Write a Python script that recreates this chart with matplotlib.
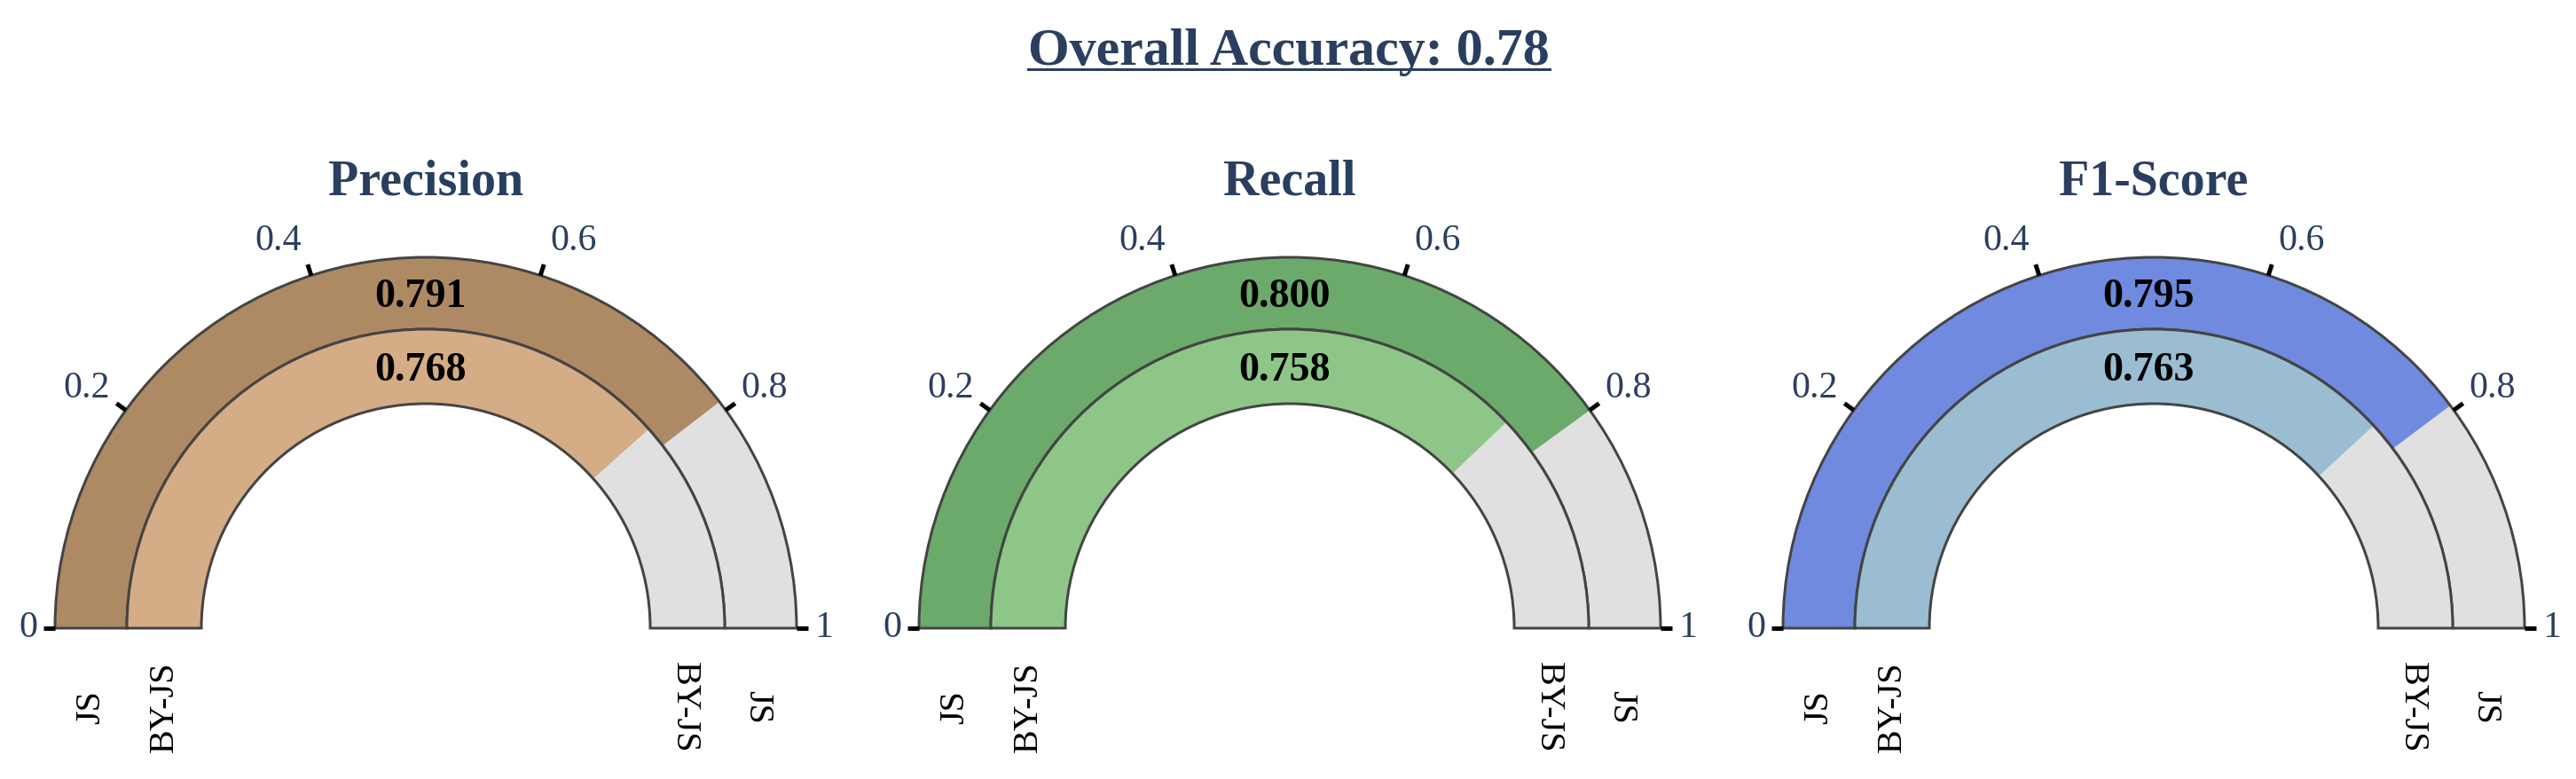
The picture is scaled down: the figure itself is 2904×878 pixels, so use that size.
import numpy as np
import matplotlib.pyplot as plt
from matplotlib.patches import Wedge

plt.rcParams['font.family'] = ['Liberation Serif', 'DejaVu Serif']

# data
metrics = ['Precision', 'Recall', 'F1-Score']
js_scores = [0.791, 0.800, 0.795]
byjs_scores = [0.768, 0.758, 0.763]
overall_accuracy = 0.78
tick_values = [0, 0.2, 0.4, 0.6, 0.8, 1]
tick_labels = ['0', '0.2', '0.4', '0.6', '0.8', '1']
ring_names = ['JS', 'BY-JS']

js_colors = ['#ae8a64', '#6baa6b', '#6f8adf']
byjs_colors = ['#d4ac86', '#8ec687', '#9bbdd2']
gray = '#e0e0e0'
edge = '#444444'
navy = '#2a3f5f'

W, H = 2904, 878
fig = plt.figure(figsize=(W / 144, H / 144), dpi=144)
ax = fig.add_axes([0, 0, 1, 1])
ax.set_xlim(0, W)
ax.set_ylim(0, H)
ax.axis('off')


def py(y):
    # pixel rows counted from the top
    return H - y


centers = [480, 1454, 2428]
base = 708
r_out, r_mid, r_in = 418, 337, 253


def ang(v):
    return 180 * (1 - v)


for i, name in enumerate(metrics):
    cx = centers[i]
    c = (cx, py(base))
    rings = [(r_out, r_mid, js_scores[i], js_colors[i]),
             (r_mid, r_in, byjs_scores[i], byjs_colors[i])]
    for ro, ri, v, col in rings:
        ax.add_patch(Wedge(c, ro, 0, 180, width=ro - ri, facecolor=gray, edgecolor='none'))
        ax.add_patch(Wedge(c, ro, ang(v), 180, width=ro - ri, facecolor=col, edgecolor='none'))
        ax.add_patch(Wedge(c, ro, 0, 180, width=ro - ri, facecolor='none',
                           edgecolor=edge, linewidth=1.5))
        # value text
        rm = (ro + ri) / 2
        ax.text(cx - 6, py(base) + rm - 5, f'{v:.3f}', ha='center', va='center',
                fontsize=23, fontweight='bold', color='black')

    # ticks
    for tv, tl in zip(tick_values, tick_labels):
        a = np.radians(ang(tv))
        ca, sa = np.cos(a), np.sin(a)
        ax.plot([cx + r_out * ca, cx + 431 * ca], [py(base) + r_out * sa, py(base) + 431 * sa],
                color='black', linewidth=2.5, solid_capstyle='butt')
        x0 = cx + 431 * ca
        y0 = py(base) + 431 * sa
        if ca > 0.01:
            ha, dx = 'left', 7
        elif ca < -0.01:
            ha, dx = 'right', -7
        else:
            ha, dx = 'center', 0
        ax.text(x0 + dx, y0 + 28 * sa, tl, ha=ha, va='center', fontsize=21, color=navy)

    # ring names under the gauge
    for rn, rm in zip(ring_names, [(r_out + r_mid) / 2, (r_mid + r_in) / 2]):
        ax.text(cx - rm, py(797), rn, rotation=90, ha='center', va='center',
                fontsize=20, color='black')
        ax.text(cx + rm - 4, py(797), rn, rotation=-90, ha='center', va='center',
                fontsize=20, color='black')

    ax.text(cx, py(220), name, ha='center', va='baseline', fontsize=28,
            fontweight='bold', color=navy)

t = ax.text(1453, py(73), f'Overall Accuracy: {overall_accuracy:.2f}', ha='center',
            va='baseline', fontsize=30, fontweight='bold', color=navy)
fig.canvas.draw()
bb = t.get_window_extent()
ax.plot([bb.x0, bb.x1], [py(78), py(78)], color=navy, linewidth=1.5)

fig.savefig('out.png', dpi=144)
